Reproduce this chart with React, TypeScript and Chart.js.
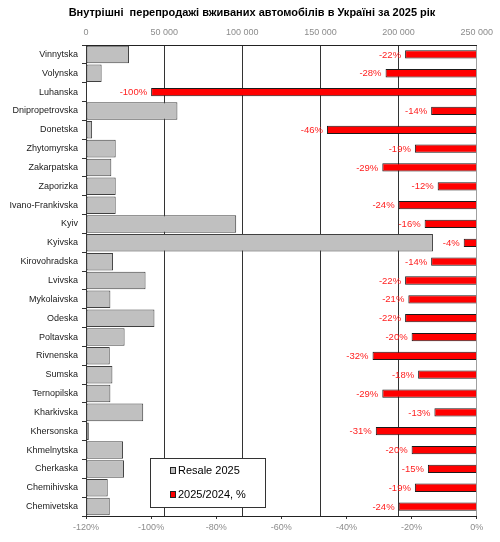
import React, { useEffect, useRef } from "react";
import { Chart, registerables } from "chart.js";

Chart.register(...registerables);

const categories = [
  "Vinnytska", "Volynska", "Luhanska", "Dnipropetrovska", "Donetska",
  "Zhytomyrska", "Zakarpatska", "Zaporizka", "Ivano-Frankivska", "Kyiv",
  "Kyivska", "Kirovohradska", "Lvivska", "Mykolaivska", "Odeska",
  "Poltavska", "Rivnenska", "Sumska", "Ternopilska", "Kharkivska",
  "Khersonska", "Khmelnytska", "Cherkaska", "Chemihivska", "Chemivetska",
];

const resale2025 = [
  27500, 10000, 0, 58500, 3900,
  19000, 16200, 19000, 19000, 96100,
  222000, 17300, 38100, 15600, 43800,
  24700, 15200, 16900, 15600, 36600,
  1800, 23700, 24300, 13900, 15200,
];

const change2025vs2024 = [
  -22, -28, -100, -14, -46,
  -19, -29, -12, -24, -16,
  -4, -14, -22, -21, -22,
  -20, -32, -18, -29, -13,
  -31, -20, -15, -19, -24,
];

const seriesNames = ["Resale 2025", "2025/2024, %"];
const titleText = "Внутрішні  перепродажі вживаних автомобілів в Україні за 2025 рік";

const FONT = "'Liberation Sans', Arial, sans-serif";

const fmtThousands = (v: number) =>
  String(v).replace(/\B(?=(\d{3})+(?!\d))/g, " ");

const titlePlugin = {
  id: "customTitle",
  afterDraw(chart: any) {
    const ctx = chart.ctx;
    ctx.save();
    ctx.font = `bold 11px ${FONT}`;
    ctx.fillStyle = "#000";
    ctx.textAlign = "center";
    ctx.textBaseline = "middle";
    ctx.fillText(titleText, 252, 13);
    ctx.restore();
  },
};

const pctLabelPlugin = {
  id: "pctLabels",
  afterDatasetsDraw(chart: any) {
    const ctx = chart.ctx;
    const meta = chart.getDatasetMeta(1);
    const data = chart.data.datasets[1].data as number[];
    ctx.save();
    ctx.font = `9.5px ${FONT}`;
    ctx.fillStyle = "#ff2020";
    ctx.textAlign = "right";
    ctx.textBaseline = "middle";
    meta.data.forEach((el: any, i: number) => {
      ctx.fillText(`${data[i]}%`, el.x - 4, el.y + 0.5);
    });
    ctx.restore();
  },
};

const legendPlugin = {
  id: "boxLegend",
  afterDraw(chart: any) {
    const ctx = chart.ctx;
    ctx.save();
    const x = 150, y = 458, w = 115, h = 49;
    ctx.fillStyle = "#fff";
    ctx.fillRect(x, y, w, h);
    ctx.strokeStyle = "#333";
    ctx.lineWidth = 1;
    ctx.strokeRect(x + 0.5, y + 0.5, w, h);
    const items = [
      { label: seriesNames[0], color: "#c0c0c0", cy: 470.5 },
      { label: seriesNames[1], color: "#ff0000", cy: 494.5 },
    ];
    ctx.font = `11px ${FONT}`;
    ctx.textBaseline = "middle";
    ctx.textAlign = "left";
    items.forEach((it) => {
      ctx.fillStyle = it.color;
      ctx.fillRect(170.5, it.cy - 3, 5, 6);
      ctx.strokeStyle = "#222";
      ctx.strokeRect(170.5, it.cy - 3, 5, 6);
      ctx.fillStyle = "#000";
      ctx.fillText(it.label, 178, it.cy);
    });
    ctx.restore();
  },
};

export default function App() {
  const canvasRef = useRef<HTMLCanvasElement | null>(null);

  useEffect(() => {
    document.body.style.margin = "0";
    const canvas = canvasRef.current;
    if (!canvas) return;
    const chart = new Chart(canvas, {
      type: "bar",
      data: {
        labels: categories,
        datasets: [
          {
            label: seriesNames[0],
            data: resale2025,
            xAxisID: "xTop",
            backgroundColor: "#c0c0c0",
            borderColor: "#404040",
            borderWidth: 1,
            borderSkipped: false,
            grouped: false,
            barPercentage: 0.93,
            categoryPercentage: 1,
            order: 2,
          } as any,
          {
            label: seriesNames[1],
            data: change2025vs2024,
            xAxisID: "xPct",
            backgroundColor: "#ff0000",
            borderColor: "#1a1a1a",
            borderWidth: 1,
            borderSkipped: "start",
            grouped: false,
            barPercentage: 0.44,
            categoryPercentage: 1,
            order: 1,
          } as any,
        ],
      },
      options: {
        indexAxis: "y",
        animation: false,
        responsive: false,
        maintainAspectRatio: false,
        layout: { padding: { top: 22, right: 21, left: 0, bottom: 0 } },
        plugins: {
          legend: { display: false },
          tooltip: { enabled: false },
          title: { display: false },
        },
        scales: {
          y: {
            type: "category",
            offset: true,
            grid: {
              drawOnChartArea: false,
              drawTicks: true,
              tickLength: 4,
              color: "#333",
              offset: true,
            },
            border: { display: true, color: "#333" },
            ticks: {
              color: "#1a1a1a",
              font: { family: FONT, size: 9 },
              padding: 4,
              autoSkip: false,
            },
            afterFit(scale: any) {
              scale.width = 86;
            },
          },
          xTop: {
            type: "linear",
            position: "top",
            min: 0,
            max: 250000,
            grid: {
              drawOnChartArea: true,
              drawTicks: false,
              color: (c: any) => (c.tick && c.tick.value === 250000 ? "#a0a0a0" : "#333"),
              lineWidth: 1,
            },
            border: { display: true, color: "#222" },
            ticks: {
              stepSize: 50000,
              color: "#8c8c8c",
              font: { family: FONT, size: 9 },
              padding: 7,
              maxRotation: 0,
              callback: (v: any) => fmtThousands(Number(v)),
            },
            afterFit(scale: any) {
              scale.height = 23;
            },
          },
          xPct: {
            type: "linear",
            position: "bottom",
            min: -120,
            max: 0,
            grid: {
              drawOnChartArea: false,
              drawTicks: true,
              tickLength: 3,
              color: "#333",
            },
            border: { display: true, color: "#222" },
            ticks: {
              stepSize: 20,
              color: "#8c8c8c",
              font: { family: FONT, size: 9 },
              padding: 3,
              maxRotation: 0,
              callback: (v: any) => `${v}%`,
            },
            afterFit(scale: any) {
              scale.height = 26;
            },
          },
        },
      } as any,
      plugins: [titlePlugin, pctLabelPlugin, legendPlugin],
    });
    return () => chart.destroy();
  }, []);

  return (
    <div style={{ width: 500, height: 542, position: "relative", background: "#fff" }}>
      <canvas ref={canvasRef} width={500} height={542} style={{ width: 500, height: 542, display: "block" }} />
    </div>
  );
}
